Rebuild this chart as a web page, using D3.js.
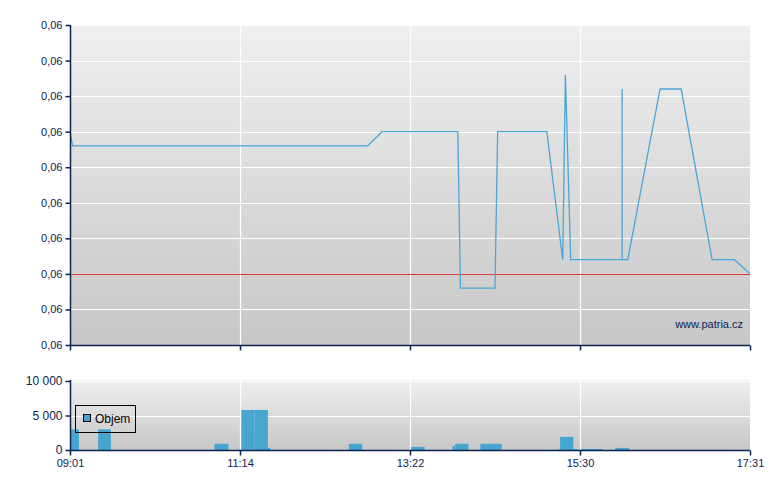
<!DOCTYPE html>
<html><head><meta charset="utf-8">
<script src="https://cdn.jsdelivr.net/npm/d3@7"></script>
<style>
html,body{margin:0;padding:0;background:#fff;}
svg{display:block;font-family:"Liberation Sans",Arial,sans-serif;}
</style></head>
<body><svg id="c" width="780" height="490"></svg>
<script>
// ---- data ----
const xTickLabels = ["09:01","11:14","13:22","15:30","17:31"];
const priceTimes  = ["09:01","09:03","12:50","13:01","13:58","14:00","14:26","14:28","15:05","15:17","15:19","15:23","16:00","16:00","16:00","16:04","16:27","16:42","17:04","17:20","17:31"];
const priceValues = [0.0590,0.0588,0.0588,0.0590,0.0590,0.0568,0.0568,0.0590,0.0590,0.0572,0.0598,0.0572,0.0572,0.0596,0.0572,0.0572,0.0596,0.0596,0.0572,0.0572,0.0570];
const prevClose = 0.0570;
const priceTicks = [0.0560,0.0565,0.0570,0.0575,0.0580,0.0585,0.0590,0.0595,0.0600,0.0605];
const volStart = ["09:01","09:23","10:54","11:15","11:25","11:35","12:36","13:23","13:54","13:56","14:15","14:23","15:13","15:15","15:25","15:31","15:55"];
const volEnd   = ["09:08","09:33","11:05","11:25","11:35","11:37","12:46","13:33","13:56","14:06","14:23","14:31","15:15","15:25","15:28","15:46","16:05"];
const volValues= [3000,3000,900,5800,5800,300,900,450,600,900,900,900,100,1900,150,150,300];
const volTicks = [0,5000,10000];
const legendLabel = "Objem";
const credit = "www.patria.cz";

// ---- helpers ----
const toMin = s => { const [h,m] = s.split(":").map(Number); return h*60+m; };
const loc = d3.formatLocale({decimal:",", thousands:"\u00a0", grouping:[3], currency:["",""]});
const fPrice = loc.format(".2f");
const fVol = loc.format(",d");

const svg = d3.select("#c");
const L = 70, R = 750;
const navy = "#0b2352";
const x = d3.scaleLinear().domain(xTickLabels.map(toMin)).range(xTickLabels.map((v,i)=>L + i*(R-L)/4));
const yP = d3.scaleLinear().domain([priceTicks[0], priceTicks[priceTicks.length-1]]).range([345, 25]);
const yV = d3.scaleLinear().domain([0, 10000]).range([450, 381]);

const defs = svg.append("defs");
const g = defs.append("linearGradient").attr("id","bg").attr("x1",0).attr("y1",0).attr("x2",0).attr("y2",1);
g.append("stop").attr("offset","0%").attr("stop-color","#efefef");
g.append("stop").attr("offset","100%").attr("stop-color","#c7c7c7");

function panel(top, bottom) {
  svg.append("rect").attr("x",L).attr("y",top).attr("width",R-L).attr("height",bottom-top).attr("fill","url(#bg)");
}
panel(25, 345);
panel(380, 450);

// gridlines main
const gm = svg.append("g");
gm.selectAll("line.h").data(priceTicks.slice(1)).join("line")
  .attr("x1",L).attr("x2",R).attr("y1",d=>Math.round(yP(d))+0.5).attr("y2",d=>Math.round(yP(d))+0.5)
  .attr("stroke","#fff").attr("stroke-width",1.2);
const xt = xTickLabels.map(toMin);
gm.selectAll("line.v").data(xt.slice(1,-1)).join("line")
  .attr("x1",d=>Math.round(x(d))+0.5).attr("x2",d=>Math.round(x(d))+0.5).attr("y1",25).attr("y2",345)
  .attr("stroke","#fff").attr("stroke-width",1.2);
// gridlines volume
const gv = svg.append("g");
gv.selectAll("line.h").data(volTicks.slice(1)).join("line")
  .attr("x1",L).attr("x2",R).attr("y1",d=>Math.round(yV(d))+0.5).attr("y2",d=>Math.round(yV(d))+0.5)
  .attr("stroke","#fff").attr("stroke-width",1.2);
gv.selectAll("line.v").data(xt.slice(1,-1)).join("line")
  .attr("x1",d=>Math.round(x(d))+0.5).attr("x2",d=>Math.round(x(d))+0.5).attr("y1",380).attr("y2",450)
  .attr("stroke","#fff").attr("stroke-width",1.2);

// previous close line
const pcY = Math.round(yP(prevClose)) + 0.5;
svg.append("line").attr("x1",L).attr("x2",R).attr("y1",pcY).attr("y2",pcY)
  .attr("stroke","#e23a3a").attr("stroke-width",1);

// price line
const pts = priceTimes.map((t,i)=>[toMin(t), priceValues[i]]);
svg.append("path").datum(pts)
  .attr("d", d3.line().x(d=>x(d[0])).y(d=>yP(d[1])))
  .attr("fill","none").attr("stroke","#4aa6d6").attr("stroke-width",1.3);

// volume bars
svg.append("g").selectAll("rect").data(volValues).join("rect")
  .attr("x",(d,i)=>x(toMin(volStart[i])))
  .attr("width",(d,i)=>x(toMin(volEnd[i]))-x(toMin(volStart[i])))
  .attr("y",d=>yV(d)).attr("height",d=>yV(0)-yV(d))
  .attr("fill","#46a6d0");

// axes main
const axL = d3.axisLeft(yP).tickValues(priceTicks).tickFormat(fPrice).tickSize(5).tickPadding(3);
const aL = svg.append("g").attr("transform",`translate(${L+0.5},0)`).call(axL);
const axB = d3.axisBottom(x).tickValues(xt).tickFormat("").tickSize(5);
const aB = svg.append("g").attr("transform",`translate(0,345.5)`).call(axB);
// axes volume
const axLV = d3.axisLeft(yV).tickValues(volTicks).tickFormat(fVol).tickSize(5).tickPadding(3);
const aLV = svg.append("g").attr("transform",`translate(${L+0.5},0)`).call(axLV);
const axBV = d3.axisBottom(x).tickValues(xt).tickFormat((d,i)=>xTickLabels[i]).tickSize(5).tickPadding(4);
const aBV = svg.append("g").attr("transform",`translate(0,450.5)`).call(axBV);

[aL,aB,aLV,aBV].forEach(a=>{
  a.select(".domain").attr("stroke",navy).attr("stroke-width",1.5);
  a.selectAll(".tick line").attr("stroke",navy).attr("stroke-width",1.5);
  a.selectAll(".tick text").attr("fill",navy).style("font-family",'"Liberation Sans",Arial,sans-serif');
});
aL.selectAll(".tick text").style("font-size","11px");
aLV.selectAll(".tick text").style("font-size","12px");
aBV.selectAll(".tick text").style("font-size","11px");
aL.select(".domain").attr("d",`M0,25V345`);
aB.select(".domain").attr("d",`M${L},0H${R}`);
aLV.select(".domain").attr("d",`M0,380V450`);
aBV.select(".domain").attr("d",`M${L},0H${R}`);

// credit
svg.append("text").attr("x",743).attr("y",328).attr("text-anchor","end")
  .attr("fill",navy).style("font-size","11px").text(credit);

// legend
const lg = svg.append("g");
lg.append("rect").attr("x",75.5).attr("y",405.5).attr("width",60).attr("height",27)
  .attr("fill","none").attr("stroke","#000").attr("stroke-width",1);
lg.append("rect").attr("x",83.5).attr("y",414.5).attr("width",7).attr("height",7)
  .attr("fill","#46a6d0").attr("stroke","#000").attr("stroke-width",1);
lg.append("text").attr("x",95).attr("y",423).attr("fill","#000").style("font-size","12px").text(legendLabel);
</script></body></html>
